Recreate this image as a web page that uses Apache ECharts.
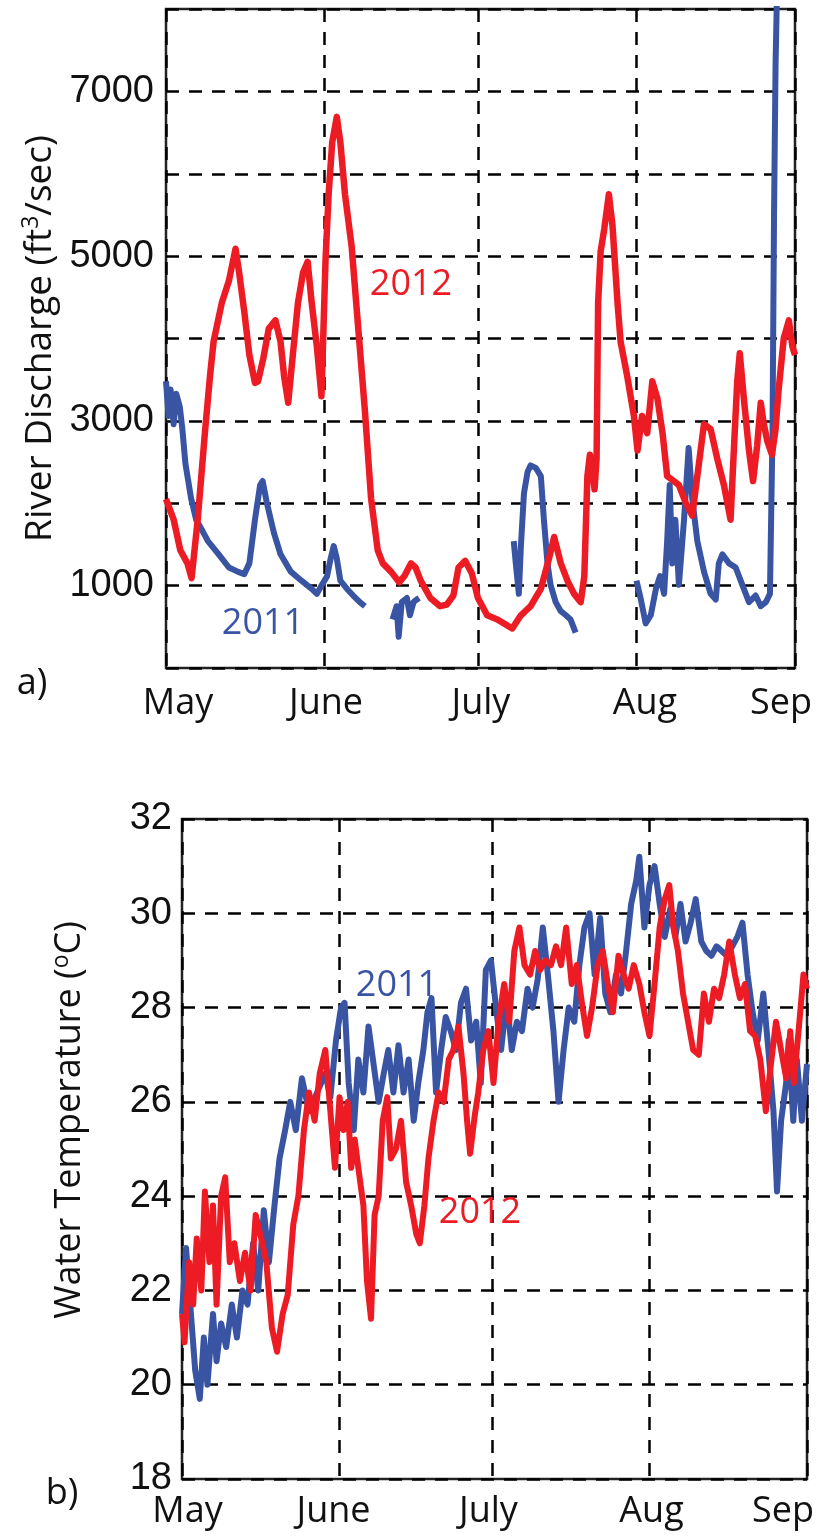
<!DOCTYPE html>
<html><head><meta charset="utf-8">
<script src="https://cdn.jsdelivr.net/npm/echarts@6/dist/echarts.min.js"></script>
<style>html,body{margin:0;padding:0;background:#fff}#c{width:817px;height:1538px}</style>
</head><body><div id="c"></div>
<script>
// x values: days since May 1
const monthTicks = [0, 31, 61, 92, 123];
const monthLabels = ['May', 'June', 'July', 'Aug', 'Sep'];

const discharge2012 = [[0,2050],[1.5,1800],[2.8,1430],[4.2,1270],[5.0,1090],[6.2,1800],[7.6,2850],[8.6,3540],[9.3,3960],[10.9,4430],[12.3,4700],[13.6,5090],[14.3,4800],[15.3,4330],[16.3,3800],[17.4,3460],[18.0,3480],[19.0,3750],[20.1,4120],[21.4,4220],[22.4,3960],[23.1,3540],[23.9,3220],[24.8,3800],[25.8,4430],[26.8,4800],[27.7,4930],[28.5,4430],[29.5,3900],[30.4,3300],[31.2,4960],[31.8,5750],[32.5,6380],[33.4,6690],[34.1,6380],[35.0,5750],[36.3,5120],[37.6,4120],[38.9,3120],[40.1,2060],[41.4,1430],[42.4,1270],[44.0,1170],[45.6,1040],[46.6,1115],[47.9,1270],[48.8,1220],[49.8,1060],[51.7,850],[53.6,750],[54.9,770],[56.2,880],[57.2,1220],[58.5,1300],[59.8,1150],[61.0,850],[62.8,640],[64.8,590],[66.1,540],[67.7,480],[69.4,640],[71.3,750],[73.3,960],[74.9,1330],[75.9,1590],[77.2,1270],[78.5,1060],[79.8,900],[81.1,800],[81.8,1115],[82.4,2330],[82.9,2590],[83.4,2380],[83.8,2170],[84.2,2540],[84.5,4430],[85.0,5060],[85.7,5330],[86.6,5750],[87.3,5380],[88.3,4430],[88.9,3960],[90.2,3540],[91.5,3060],[92.2,2640],[93.1,3060],[94.1,2850],[95.1,3480],[96.1,3270],[97.1,2850],[98.0,2330],[99.3,2270],[100.3,2220],[101.6,2010],[102.9,1850],[103.9,2330],[105.2,2960],[106.5,2900],[107.8,2540],[109.1,2220],[110.4,1800],[111.0,2590],[111.7,3480],[112.2,3820],[113.0,3270],[114.0,2640],[114.8,2270],[115.6,2700],[116.3,3220],[116.9,2960],[117.6,2750],[118.5,2590],[119.2,2900],[119.8,3380],[120.8,4000],[121.8,4220],[122.5,3900],[123.0,3800]];

const discharge2011 = [[0,3480],[0.5,3060],[0.9,3380],[1.5,2960],[2.0,3330],[2.7,3170],[3.2,2900],[3.8,2480],[4.9,2060],[5.9,1800],[6.9,1690],[8.2,1540],[10.3,1380],[12.3,1220],[14.0,1170],[15.3,1140],[16.3,1270],[17.4,1800],[18.4,2220],[18.9,2270],[19.7,2010],[21.1,1640],[22.4,1380],[24.4,1170],[26.5,1060],[28.5,960],[29.5,900],[30.5,1010],[31.5,1115],[32.2,1330],[32.8,1480],[33.4,1330],[34.1,1060],[35.4,960],[36.6,880],[37.9,800],[38.9,750],[41,null],[44.3,590],[45.1,750],[45.5,380],[46.1,800],[47.1,850],[47.7,640],[48.4,800],[49.0,830],[49.5,850],[55,null],[68.0,1540],[68.4,1270],[69.0,900],[69.4,1480],[70.0,2120],[70.7,2380],[71.3,2460],[72.3,2430],[73.3,2330],[73.9,1800],[74.6,1270],[75.2,1010],[76.2,800],[77.2,690],[78.2,640],[79.1,590],[80.1,430],[85,null],[92.0,1060],[92.8,850],[93.8,540],[94.8,640],[95.8,960],[96.6,1115],[97.4,900],[98.0,1540],[98.5,2220],[99.0,1270],[99.6,1800],[100.3,1010],[101.3,1800],[102.2,2670],[102.9,2060],[103.9,1540],[105.2,1170],[106.5,900],[107.5,830],[108.1,1270],[108.8,1380],[110.1,1270],[111.4,1220],[112.7,1010],[114.0,800],[115.3,880],[116.3,750],[117.3,800],[118.1,900],[118.6,2850],[118.9,5490],[119.2,7330],[119.6,8600]];

const temp2011 = [[0,21.5],[0.8,22.9],[1.9,21.3],[2.6,20.3],[3.5,19.7],[4.3,21.0],[5.0,20.0],[6.1,21.5],[6.8,20.5],[7.7,21.3],[8.7,20.8],[9.8,21.7],[10.8,21.0],[11.9,22.0],[12.9,21.7],[14.0,23.0],[15.0,22.0],[16.1,23.7],[17.1,22.6],[18.2,23.8],[19.2,24.8],[20.3,25.4],[21.3,26.0],[22.4,25.4],[23.6,26.5],[25.0,25.8],[26.6,26.2],[28.2,26.6],[29.2,26.1],[30.3,27.3],[31.3,28.0],[32.0,28.1],[32.8,26.4],[33.8,25.4],[34.7,26.9],[35.7,26.2],[36.7,27.6],[37.7,26.8],[38.7,26.0],[39.7,26.6],[40.6,27.1],[41.6,26.2],[42.6,27.2],[43.6,26.2],[44.6,26.9],[45.6,25.6],[46.5,26.4],[47.5,27.1],[48.3,27.9],[49.1,28.2],[50.0,26.2],[51.0,27.1],[51.9,27.8],[52.9,27.5],[53.9,27.1],[54.9,28.1],[55.9,28.4],[56.9,27.3],[57.9,27.7],[58.8,26.4],[59.8,28.8],[60.8,29.0],[61.8,28.0],[62.8,27.1],[63.9,28.2],[64.9,27.1],[65.9,27.7],[66.9,27.5],[68.0,28.4],[69.0,28.0],[70.0,28.6],[71.0,29.7],[72.0,28.7],[73.1,27.5],[74.1,26.0],[75.1,27.1],[76.1,28.0],[77.2,27.7],[78.2,28.9],[79.2,29.7],[80.2,30.0],[81.2,28.7],[82.3,29.9],[83.3,28.3],[84.3,27.9],[85.4,28.7],[86.4,28.3],[87.4,29.2],[88.4,30.2],[89.4,30.7],[90.0,31.2],[91.0,29.7],[92.0,30.6],[93.0,31.0],[94.0,30.2],[95.0,29.5],[96.1,30.1],[97.1,29.5],[98.1,30.2],[99.1,29.4],[100.1,29.8],[101.1,30.3],[102.2,29.4],[103.2,29.2],[104.2,29.1],[105.2,29.3],[106.2,29.2],[107.2,29.1],[108.3,29.3],[109.3,29.5],[110.3,29.8],[111.3,28.7],[112.3,27.9],[113.3,27.3],[114.4,28.3],[115.4,27.1],[116.4,25.8],[117.1,24.1],[117.9,25.6],[118.9,26.4],[119.4,27.3],[120.3,25.6],[121.0,26.9],[122.0,25.6],[123.0,26.8]];

const temp2012 = [[0,21.5],[0.5,20.9],[1.4,22.6],[2.2,21.7],[2.9,23.1],[3.8,22.0],[4.5,24.1],[5.4,22.6],[6.1,23.8],[6.8,21.7],[7.7,24.0],[8.5,24.4],[9.4,22.6],[10.3,23.0],[11.4,22.2],[12.4,22.8],[13.5,22.0],[14.5,23.6],[15.6,23.1],[16.6,22.6],[17.7,21.2],[18.7,20.7],[19.8,21.5],[20.8,21.9],[21.9,23.4],[22.9,24.0],[24.0,25.4],[25.0,26.2],[26.1,25.6],[27.1,26.6],[28.2,27.1],[29.2,25.8],[30.1,24.6],[31.0,26.1],[31.8,25.4],[32.6,26.0],[33.3,24.6],[34.0,25.2],[34.7,24.6],[35.7,23.8],[36.4,22.2],[37.2,21.4],[37.9,23.6],[38.7,24.0],[39.5,25.6],[40.4,26.1],[41.1,24.8],[42.1,25.0],[43.1,25.6],[44.1,24.3],[45.1,23.8],[46.1,23.2],[46.8,23.0],[47.7,23.8],[48.5,24.8],[49.5,25.6],[50.5,26.2],[51.5,26.0],[52.5,26.9],[53.4,27.1],[54.4,27.6],[55.4,26.6],[56.1,25.6],[56.7,24.9],[57.6,25.7],[58.3,26.2],[59.3,27.1],[60.3,27.5],[61.3,26.4],[62.3,27.7],[63.4,28.5],[64.4,27.7],[65.4,29.2],[66.4,29.7],[67.4,28.9],[68.5,28.7],[69.5,29.2],[70.5,28.8],[71.5,29.0],[72.6,28.9],[73.6,29.3],[74.6,28.9],[75.6,29.7],[76.7,28.5],[77.7,28.9],[78.7,28.1],[79.7,27.4],[80.7,28.0],[81.8,28.9],[82.8,29.2],[83.8,28.5],[84.8,27.9],[85.9,29.1],[86.9,28.7],[87.9,28.4],[88.9,28.9],[90.0,28.5],[91.0,27.9],[92.0,27.4],[93.0,28.5],[94.0,29.7],[95.0,30.3],[95.9,30.6],[96.7,29.7],[97.6,29.2],[98.6,28.3],[99.6,27.7],[100.6,27.1],[101.7,27.0],[102.7,28.3],[103.7,27.7],[104.7,28.4],[105.7,28.2],[106.7,28.7],[107.7,29.4],[108.8,28.7],[109.8,28.2],[110.8,28.5],[111.8,27.5],[112.8,27.4],[113.8,26.9],[114.9,25.8],[115.9,26.8],[116.9,27.7],[117.9,27.1],[118.9,26.5],[119.7,27.5],[120.4,26.4],[121.5,27.7],[122.3,28.7],[123.0,28.4]];

const RED = '#ED1C24', BLUE = '#3A54A4', INK = '#111';
const LABEL_FONT = '"Open Sans", "Noto Sans", sans-serif';
const TICK_FONT = '"Liberation Sans", Arial, sans-serif';

function monthRich(offsets) {
  const rich = {};
  offsets.forEach((d, i) => {
    rich['m' + i] = { fontSize: 36, fontFamily: LABEL_FONT, color: INK,
      padding: d >= 0 ? [0, 0, 0, 2 * d] : [0, -2 * d, 0, 0] };
  });
  return rich;
}
function monthFormatter(v) {
  const i = monthTicks.indexOf(v);
  return i < 0 ? '' : '{m' + i + '|' + monthLabels[i] + '}';
}
const dashed = { type: [13, 10], color: '#000', width: 2.5 };

function xAxis(gridIndex, offsets, margin) {
  return {
    type: 'value', gridIndex, min: 0, max: 123,
    axisLine: { show: false },
    axisTick: { show: false, customValues: monthTicks },
    axisLabel: { customValues: monthTicks, formatter: monthFormatter, margin,
      showMinLabel: true, showMaxLabel: true, rich: monthRich(offsets),
      fontSize: 36, fontFamily: LABEL_FONT, color: INK },
    splitLine: { show: true, lineStyle: dashed }
  };
}

const option = {
  animation: false,
  backgroundColor: '#fff',
  grid: [
    { left: 166, top: 9, width: 629, height: 659, show: true, borderColor: '#222', borderWidth: 2.5, backgroundColor: 'transparent' },
    { left: 182, top: 819, width: 628, height: 660, show: true, borderColor: '#222', borderWidth: 2.5, backgroundColor: 'transparent' }
  ],
  xAxis: [
    xAxis(0, [12, 1.5, 3, 8.5, -14], 18),
    xAxis(1, [5.5, -6, -3.5, 2, -24], 15)
  ],
  yAxis: [
    {
      type: 'value', gridIndex: 0, min: 0, max: 8000, interval: 1000,
      axisLine: { show: false }, axisTick: { show: false },
      axisLabel: { margin: 12, fontSize: 38, fontFamily: TICK_FONT, color: INK,
        formatter: v => (v % 2000 === 1000 ? String(v) : '') },
      splitLine: { show: true, lineStyle: dashed },
      name: '{a|River Discharge (ft}{s|3}{a|/sec)}',
      nameLocation: 'middle', nameGap: 106,
      nameTextStyle: { padding: [0, 0, 0, 0], rich: {
        a: { fontSize: 37, fontFamily: LABEL_FONT, color: INK, lineHeight: 40 },
        s: { fontSize: 23, fontFamily: LABEL_FONT, color: INK, verticalAlign: 'top', lineHeight: 40 }
      } }
    },
    {
      type: 'value', gridIndex: 1, min: 18, max: 32, interval: 2,
      axisLine: { show: false }, axisTick: { show: false },
      axisLabel: { margin: 10, fontSize: 38, fontFamily: TICK_FONT, color: INK },
      splitLine: { show: true, lineStyle: dashed },
      name: '{a|Water Temperature (}{s|o}{a|C)}',
      nameLocation: 'middle', nameGap: 92,
      nameTextStyle: { padding: [0, 0, 0, 58], rich: {
        a: { fontSize: 36, fontFamily: LABEL_FONT, color: INK, lineHeight: 40 },
        s: { fontSize: 23, fontFamily: LABEL_FONT, color: INK, verticalAlign: 'top', lineHeight: 40 }
      } }
    }
  ],
  series: [
    { type: 'line', xAxisIndex: 0, yAxisIndex: 0, data: discharge2011, showSymbol: false, symbol: 'none', connectNulls: false, lineStyle: { color: BLUE, width: 6, join: 'round' }, itemStyle: { color: BLUE }, z: 3 },
    { type: 'line', xAxisIndex: 0, yAxisIndex: 0, data: discharge2012, showSymbol: false, symbol: 'none', lineStyle: { color: RED, width: 6.5, join: 'round' }, itemStyle: { color: RED }, z: 4 },
    { type: 'line', xAxisIndex: 1, yAxisIndex: 1, data: temp2011, showSymbol: false, symbol: 'none', lineStyle: { color: BLUE, width: 6, join: 'round' }, itemStyle: { color: BLUE }, z: 3 },
    { type: 'line', xAxisIndex: 1, yAxisIndex: 1, data: temp2012, showSymbol: false, symbol: 'none', lineStyle: { color: RED, width: 6, join: 'round' }, itemStyle: { color: RED }, z: 4 }
  ],
  graphic: [
    { type: 'text', x: 411, y: 285, z: 10, style: { text: '2012', fill: RED, font: '36px ' + LABEL_FONT, textAlign: 'center', textVerticalAlign: 'middle' } },
    { type: 'text', x: 263, y: 624, z: 10, style: { text: '2011', fill: BLUE, font: '36px ' + LABEL_FONT, textAlign: 'center', textVerticalAlign: 'middle' } },
    { type: 'text', x: 397, y: 986, z: 10, style: { text: '2011', fill: BLUE, font: '36px ' + LABEL_FONT, textAlign: 'center', textVerticalAlign: 'middle' } },
    { type: 'text', x: 480, y: 1213, z: 10, style: { text: '2012', fill: RED, font: '36px ' + LABEL_FONT, textAlign: 'center', textVerticalAlign: 'middle' } },
    { type: 'text', x: 32, y: 684, z: 10, style: { text: 'a)', fill: INK, font: '36px ' + LABEL_FONT, textAlign: 'center', textVerticalAlign: 'middle' } },
    { type: 'text', x: 62, y: 1494, z: 10, style: { text: 'b)', fill: INK, font: '36px ' + LABEL_FONT, textAlign: 'center', textVerticalAlign: 'middle' } }
  ]
};
const chart = echarts.init(document.getElementById('c'), null, { renderer: 'canvas' });
chart.setOption(option);
</script></body></html>
